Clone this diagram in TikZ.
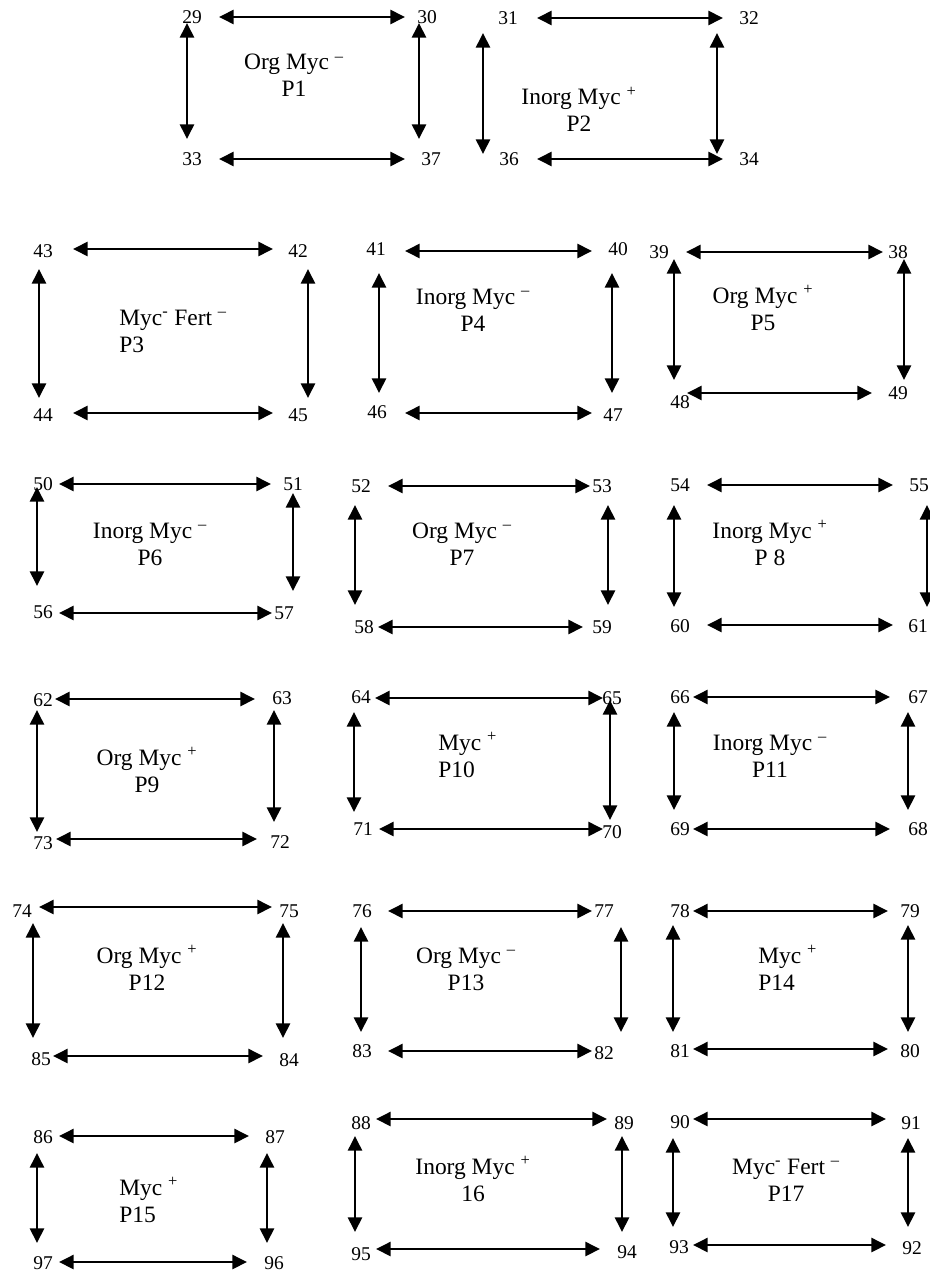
\documentclass[tikz,border=0pt]{standalone}
\usepackage{fontspec}
\setmainfont{Liberation Serif}
\usetikzlibrary{arrows.meta}
\newcommand\dblarr[3]{\coordinate (#1s) at #2; \coordinate (#1e) at #3; \draw[arr] (#1s) -- (#1e);}
\begin{document}
\begin{tikzpicture}[x=0.75pt,y=-0.75pt,
  arr/.style={line width=1.95pt,{Triangle[length=11pt,width=10.5pt]}-{Triangle[length=11pt,width=10.5pt]}},
  lbl/.style={inner sep=0pt,font=\fontsize{14.6pt}{16pt}\selectfont},
  ctxt/.style={inner sep=0pt,anchor=base,font=\fontsize{17.6pt}{20.25pt}\selectfont},
  ltxt/.style={inner sep=0pt,anchor=base west,font=\fontsize{17.6pt}{20.25pt}\selectfont}]
\useasboundingbox (0,0) rectangle (930,1273);
\fill[white] (0,0) rectangle (930,1273);
\newcommand\cb[2]{\begin{tabular}[t]{@{}c@{}}#1\\#2\end{tabular}}
\newcommand\lb[2]{\begin{tabular}[t]{@{}l@{}}#1\\#2\end{tabular}}
\newcommand\mn{\textsuperscript{–}}
\newcommand\pl{\textsuperscript{+}}
% P1
\node[lbl] (n29) at (192,17) {29}; \node[lbl] (n30) at (427,17) {30};
\node[lbl] (n33) at (192,159) {33}; \node[lbl] (n37) at (431,159) {37};
\dblarr{p1t}{(219,17)}{(405,17)} \dblarr{p1b}{(219,159)}{(405,159)}
\dblarr{p1l}{(187,23)}{(187,139)} \dblarr{p1r}{(419,23)}{(419,139)}
\node[ctxt] (t1) at (294,70) {\cb{Org Myc \mn}{P1}};
% P2
\node[lbl] (n31) at (508,18) {31}; \node[lbl] (n32) at (749,18) {32};
\node[lbl] (n36) at (509,159) {36}; \node[lbl] (n34) at (749,159) {34};
\dblarr{p2t}{(537,18)}{(723,18)} \dblarr{p2b}{(537,159)}{(723,159)}
\dblarr{p2l}{(483,33)}{(483,154)} \dblarr{p2r}{(717,33)}{(717,154)}
\node[ctxt] (t2) at (579,105) {\cb{Inorg Myc \pl}{P2}};
% P3
\node[lbl] (n43) at (43,251) {43}; \node[lbl] (n42) at (298,251) {42};
\node[lbl] (n44) at (43,415) {44}; \node[lbl] (n45) at (298,415) {45};
\dblarr{p3t}{(73,249)}{(273,249)} \dblarr{p3b}{(73,413)}{(273,413)}
\dblarr{p3l}{(39,269)}{(39,398)} \dblarr{p3r}{(308,269)}{(308,398)}
\node[ltxt] (t3) at (119,325) {\lb{Myc\textsuperscript{-} Fert \mn}{P3}};
% P4
\node[lbl] (n41) at (376,249) {41}; \node[lbl] (n40) at (618,249) {40};
\node[lbl] (n46) at (377,412) {46}; \node[lbl] (n47) at (613,415) {47};
\dblarr{p4t}{(405,251)}{(592,251)} \dblarr{p4b}{(405,413)}{(592,413)}
\dblarr{p4l}{(379,273)}{(379,393)} \dblarr{p4r}{(612,273)}{(612,393)}
\node[ctxt] (t4) at (473,304) {\cb{Inorg Myc \mn}{P4}};
% P5
\node[lbl] (n39) at (659,252) {39}; \node[lbl] (n38) at (898,252) {38};
\node[lbl] (n48) at (680,402) {48}; \node[lbl] (n49) at (898,393) {49};
\dblarr{p5t}{(686,252)}{(883,252)} \dblarr{p5b}{(687,393)}{(872,393)}
\dblarr{p5l}{(674,259)}{(674,380)} \dblarr{p5r}{(904,259)}{(904,380)}
\node[ctxt] (t5) at (763,303) {\cb{Org Myc \pl}{P5}};
% P6
\node[lbl] (n50) at (43,484) {50}; \node[lbl] (n51) at (293,484) {51};
\node[lbl] (n56) at (43,612) {56}; \node[lbl] (n57) at (284,613) {57};
\dblarr{p6t}{(59,484)}{(271,484)} \dblarr{p6b}{(59,613)}{(272,613)}
\dblarr{p6l}{(37,487)}{(37,586)} \dblarr{p6r}{(293,493)}{(293,591)}
\node[ctxt] (t6) at (150,538) {\cb{Inorg Myc \mn}{P6}};
% P7
\node[lbl] (n52) at (361,486) {52}; \node[lbl] (n53) at (602,486) {53};
\node[lbl] (n58) at (364,627) {58}; \node[lbl] (n59) at (602,627) {59};
\dblarr{p7t}{(388,486)}{(590,486)} \dblarr{p7b}{(378,627)}{(583,627)}
\dblarr{p7l}{(355,505)}{(355,605)} \dblarr{p7r}{(608,505)}{(608,605)}
\node[ctxt] (t7) at (462,538) {\cb{Org Myc \mn}{P7}};
% P8
\node[lbl] (n54) at (680,485) {54}; \node[lbl] (n55) at (919,485) {55};
\node[lbl] (n60) at (680,626) {60}; \node[lbl] (n61) at (918,626) {61};
\dblarr{p8t}{(707,485)}{(893,485)} \dblarr{p8b}{(707,625)}{(893,625)}
\dblarr{p8l}{(674,505)}{(674,607)} \dblarr{p8r}{(927,505)}{(927,607)}
\node[ctxt] (t8) at (770,538) {\cb{Inorg Myc \pl}{P 8}};
% P9
\node[lbl] (n62) at (43,700) {62}; \node[lbl] (n63) at (282,698) {63};
\node[lbl] (n73) at (43,843) {73}; \node[lbl] (n72) at (280,842) {72};
\dblarr{p9t}{(55,699)}{(255,699)} \dblarr{p9b}{(56,839)}{(257,839)}
\dblarr{p9l}{(37,710)}{(37,832)} \dblarr{p9r}{(274,710)}{(274,822)}
\node[ctxt] (t9) at (147,765) {\cb{Org Myc \pl}{P9}};
% P10
\node[lbl] (n64) at (361,697) {64}; \node[lbl] (n65) at (612,698) {65};
\node[lbl] (n71) at (363,829) {71}; \node[lbl] (n70) at (612,832) {70};
\dblarr{p10t}{(375,698)}{(603,698)} \dblarr{p10b}{(379,829)}{(603,829)}
\dblarr{p10l}{(354,712)}{(354,812)} \dblarr{p10r}{(610,700)}{(610,820)}
\node[ltxt] (t10) at (438,750) {\lb{Myc \pl}{P10}};
% P11
\node[lbl] (n66) at (680,697) {66}; \node[lbl] (n67) at (918,697) {67};
\node[lbl] (n69) at (680,829) {69}; \node[lbl] (n68) at (918,829) {68};
\dblarr{p11t}{(693,697)}{(890,697)} \dblarr{p11b}{(693,829)}{(890,829)}
\dblarr{p11l}{(674,712)}{(674,810)} \dblarr{p11r}{(908,712)}{(908,810)}
\node[ctxt] (t11) at (770,750) {\cb{Inorg Myc \mn}{P11}};
% P12
\node[lbl] (n74) at (22,911) {74}; \node[lbl] (n75) at (289,911) {75};
\node[lbl] (n85) at (41,1059) {85}; \node[lbl] (n84) at (289,1060) {84};
\dblarr{p12t}{(39,907)}{(272,907)} \dblarr{p12b}{(53,1056)}{(263,1056)}
\dblarr{p12l}{(33,923)}{(33,1038)} \dblarr{p12r}{(283,923)}{(283,1038)}
\node[ctxt] (t12) at (147,963) {\cb{Org Myc \pl}{P12}};
% P13
\node[lbl] (n76) at (362,911) {76}; \node[lbl] (n77) at (604,911) {77};
\node[lbl] (n83) at (362,1051) {83}; \node[lbl] (n82) at (604,1053) {82};
\dblarr{p13t}{(388,911)}{(592,911)} \dblarr{p13b}{(388,1051)}{(592,1051)}
\dblarr{p13l}{(361,927)}{(361,1032)} \dblarr{p13r}{(621,927)}{(621,1032)}
\node[ctxt] (t13) at (466,963) {\cb{Org Myc \mn}{P13}};
% P14
\node[lbl] (n78) at (680,911) {78}; \node[lbl] (n79) at (910,911) {79};
\node[lbl] (n81) at (680,1051) {81}; \node[lbl] (n80) at (910,1051) {80};
\dblarr{p14t}{(693,911)}{(888,911)} \dblarr{p14b}{(693,1049)}{(888,1049)}
\dblarr{p14l}{(673,925)}{(673,1032)} \dblarr{p14r}{(908,925)}{(908,1032)}
\node[ltxt] (t14) at (758,963) {\lb{Myc \pl}{P14}};
% P15
\node[lbl] (n86) at (43,1137) {86}; \node[lbl] (n87) at (275,1137) {87};
\node[lbl] (n97) at (43,1263) {97}; \node[lbl] (n96) at (274,1263) {96};
\dblarr{p15t}{(59,1136)}{(249,1136)} \dblarr{p15b}{(59,1262)}{(247,1262)}
\dblarr{p15l}{(37,1153)}{(37,1243)} \dblarr{p15r}{(267,1153)}{(267,1243)}
\node[ltxt] (t15) at (119,1195) {\lb{Myc \pl}{P15}};
% P16
\node[lbl] (n88) at (361,1123) {88}; \node[lbl] (n89) at (624,1123) {89};
\node[lbl] (n95) at (361,1254) {95}; \node[lbl] (n94) at (627,1252) {94};
\dblarr{p16t}{(376,1119)}{(607,1119)} \dblarr{p16b}{(376,1249)}{(600,1249)}
\dblarr{p16l}{(355,1136)}{(355,1232)} \dblarr{p16r}{(622,1136)}{(622,1232)}
\node[ctxt] (t16) at (473,1174) {\cb{Inorg Myc \pl}{16}};
% P17
\node[lbl] (n90) at (680,1122) {90}; \node[lbl] (n91) at (911,1123) {91};
\node[lbl] (n93) at (679,1247) {93}; \node[lbl] (n92) at (912,1248) {92};
\dblarr{p17t}{(693,1119)}{(886,1119)} \dblarr{p17b}{(693,1245)}{(886,1245)}
\dblarr{p17l}{(673,1138)}{(673,1227)} \dblarr{p17r}{(908,1138)}{(908,1227)}
\node[ctxt] (t17) at (786,1174) {\cb{Myc\textsuperscript{-} Fert \mn}{P17}};
\end{tikzpicture}
\end{document}
